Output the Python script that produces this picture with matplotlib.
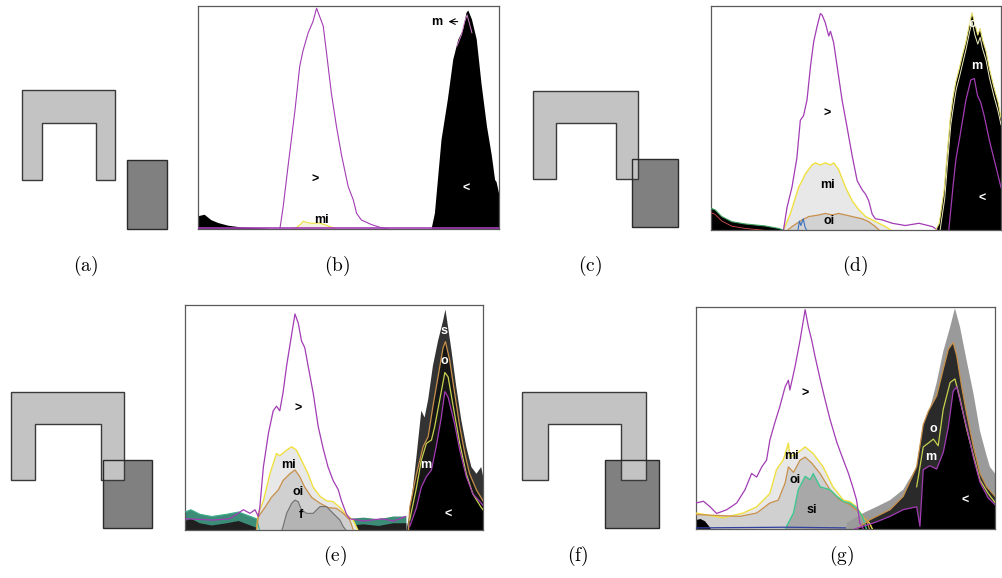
import numpy as np
import matplotlib.pyplot as plt
from matplotlib.patches import Polygon, Rectangle

W, H = 1002, 578
plt.rcParams['mathtext.fontset'] = 'cm'

# ---- shape diagrams (image pixels): U = left,right,top,bottom,inner_l,inner_r,inner_top
U_A = (22, 115, 90, 180, 42, 96, 123)
BLOCK_A = (127, 160, 167, 229)
U_C = (533, 638, 91, 179, 556, 616, 123)
BLOCK_C = (632, 159, 678, 227)
U_E = (11, 124, 392, 480, 35, 101, 424)
BLOCK_E = (103, 460, 152, 528)
U_F = (522, 646, 392, 480, 548, 621, 424)
BLOCK_F = (605, 460, 659, 528)

PANEL_LABELS = ['(a)', '(b)', '(c)', '(d)', '(e)', '(f)', '(g)']
LABEL_POS = [(86, 266), (337, 266), (590, 266), (855, 266),
             (335, 556), (578, 556), (842, 556)]

# ---- histogram curves, (x %, y %) of each panel box
B_TOTAL = [(27.2, 0), (28.3, 10), (29.9, 28), (32.2, 53), (33.8, 73), (34.9, 80),
           (36.6, 88), (38.2, 93), (39.4, 99), (40.5, 95), (41.6, 91), (42.7, 79),
           (44.3, 61), (46.0, 46), (47.7, 33), (49.9, 19), (51.6, 13), (52.7, 7),
           (54.3, 4), (57.6, 2), (61.0, 0.5), (63, 0)]
B_MI = [(32, 0), (34, 2), (35, 3.5), (36, 3), (38, 2.5), (40, 2.8), (42, 2), (44, 1), (46, 0)]
B_LEFT = [(0, 5.7), (2.2, 6.4), (4.4, 4), (6.7, 2.7), (10, 1.5), (14.4, 0.7), (21, 0.3), (24, 0)]
B_RIGHT = [(77.6, 0), (78.7, 7), (80.9, 40), (83, 58), (84.8, 76), (86.5, 85), (88, 89),
           (89.2, 97), (89.8, 98), (91, 94), (92.6, 85), (94.2, 65), (96, 46), (97.6, 33),
           (98.7, 22), (99.2, 21), (100, 16)]
B_M = [(86, 82), (87.5, 87), (88.6, 93), (89.4, 96), (90.2, 92), (91, 88)]

D_TOTAL = [(25.0, 0), (26.2, 10), (27.9, 19), (29.6, 32), (30.8, 49), (31.9, 51), (33.1, 58),
           (34.3, 73), (35.4, 84), (36.6, 91), (37.7, 96.6), (38.3, 96), (39.4, 92.6),
           (40.6, 86.6), (41.2, 88.7), (42.3, 83.6), (43.5, 73), (45.2, 58), (46.9, 46),
           (48.7, 33), (50.4, 22), (52.1, 18), (53.3, 16), (54.4, 13), (55.6, 7), (56.7, 5),
           (59.1, 4.5), (62.5, 3), (67, 2), (71.7, 3), (76.4, 1.5), (78, 0)]
D_MI = [(25, 0), (27.3, 7), (30.2, 19), (31.4, 22), (32.5, 25), (34.8, 29), (36, 30),
        (37.7, 29), (39.4, 30), (41.2, 29), (42.3, 30), (44, 27), (46.4, 19), (48.7, 13),
        (51, 9), (53.3, 6), (55.6, 4.5), (57.9, 3), (60.2, 1.5), (62, 0)]
D_OI = [(26.5, 0), (27.9, 1.5), (31.4, 4.5), (33.7, 6), (37.1, 6.7), (39.4, 7.4), (41.8, 6.7),
        (44, 7.4), (46.4, 6.7), (48.7, 6), (52.1, 5), (54.4, 3.7), (56.7, 1.5), (58, 0)]
D_LEFT = [(0, 9.7), (1.4, 9), (3.7, 6), (7.2, 3.7), (11.8, 2.7), (18.7, 1.8), (23.3, 0.7), (25, 0)]
D_RIGHT = [(77.5, 0), (78.7, 3), (80.4, 18), (81.5, 35), (82.5, 50), (83.3, 58), (84.4, 66),
           (85.6, 72), (86.7, 78), (87.9, 84), (89, 91), (90, 97), (91, 92), (92, 87),
           (92.8, 90), (93.6, 85), (94.8, 80), (96, 72), (97.5, 64), (99, 57), (100, 50)]
D_O = [(79, 0), (80.6, 14), (81.7, 32), (82.7, 47), (83.6, 55), (84.6, 63), (85.8, 69),
       (86.9, 75), (88, 81), (89.1, 88), (90, 93), (91, 87), (92, 83), (92.8, 86),
       (93.6, 81), (94.8, 76), (96, 68), (97.5, 60), (99, 53), (100, 47)]
D_M = [(82, 0), (83.5, 20), (84.5, 32), (85.6, 40), (87.9, 58), (89.6, 67), (90.8, 67.6),
       (91.9, 60), (93, 57), (94.2, 51), (96, 40), (98.3, 28), (100, 19)]

E_TOTAL = [(0, 5), (9.5, 4.4), (15, 5), (19.6, 9), (21.8, 7.4), (23.5, 9), (24.6, 6),
           (25.1, 10), (26.3, 28), (28, 43), (29.6, 53), (30.7, 55), (31.8, 53), (32.9, 61),
           (34.1, 73), (35.8, 87), (36.9, 96), (38, 92), (39.1, 84), (40.2, 81), (41.3, 73),
           (43, 61), (44.7, 46), (46.4, 36), (48, 28), (49.7, 22), (51.4, 18), (52.5, 13),
           (54.2, 7), (55.3, 5), (60, 4), (66, 5), (70, 4), (74, 6)]
E_MI = [(24, 0), (24.6, 7.4), (26.3, 13), (28.5, 25), (30.7, 34), (31.8, 33), (34.1, 35.5),
        (35.8, 37), (37.4, 35.5), (39.1, 31), (41.3, 25), (43, 19), (45.3, 15), (47.5, 13),
        (49.7, 12.6), (52, 10), (54.2, 6.7), (56.4, 4.4), (58, 0)]
E_OI = [(24, 0), (24.6, 5.9), (26.8, 10), (29, 14.5), (31.3, 17.8), (32.9, 22), (35.2, 25),
        (36.9, 26.7), (38.5, 23.7), (40.2, 19), (42.5, 14.5), (45.3, 11.9), (48, 10),
        (50.8, 9.6), (53.1, 7.4), (55.3, 4.4), (56.5, 0)]
E_F = [(32.5, 0), (32.9, 1.5), (34.1, 7.4), (35.8, 11.9), (36.9, 13.3), (38, 12.6),
       (39.1, 8.9), (40.8, 7.4), (43, 7.4), (45.3, 10.4), (47.5, 10.4), (49.7, 7.4),
       (52, 4.4), (53.1, 1.5), (54, 0)]
E_LEFT = [(0, 8), (2, 9), (5, 7), (9, 6), (14, 7), (18, 8), (21, 6.5), (24, 5), (25, 0)]
E_MID = [(55, 0), (55, 5), (60, 5.5), (65, 4.8), (70, 6), (74.3, 6), (74.3, 0)]
E_S = [(74.3, 0), (75.4, 7.4), (76.5, 19), (77.7, 33), (79.3, 53), (80.4, 50), (81.6, 58),
       (83.2, 73), (84.9, 84), (86.6, 93), (87.4, 98), (88.3, 90), (89.4, 80), (91, 64),
       (92.7, 49), (94.4, 37), (96.1, 28), (97.8, 25), (99.4, 28), (100, 24)]
E_O = [(75, 0), (75.4, 10), (77.7, 25), (79.9, 37), (81.6, 41.5), (83.2, 55), (84.9, 68),
       (86.6, 81), (87.4, 83.7), (88.8, 75.6), (90.5, 60.7), (92.2, 46), (93.9, 34),
       (95.5, 25), (97.8, 17.8), (100, 13)]
E_M = [(75.4, 4.4), (77.7, 19), (79.3, 31), (81, 38.5), (82.7, 40), (83.8, 46), (85.5, 58),
       (87.2, 70), (88.3, 68), (90, 55), (92.2, 38.5), (94.4, 25), (96.6, 16), (99.4, 10),
       (100, 9)]
E_LT = [(75.4, 1.5), (77.7, 10), (79.3, 19), (81, 23.7), (82.7, 26.7), (84.3, 37), (86, 50),
        (87.2, 61.5), (88.3, 59), (89.4, 53), (90.5, 47), (92.2, 35.5), (94.4, 23.7),
        (96.6, 16), (99.4, 11.9), (100, 11)]

G_TOTAL = [(0, 11.7), (2.5, 12.5), (4.7, 10), (6.9, 7), (10.3, 8.7), (13.6, 11.7),
           (16.4, 17.7), (18.6, 25), (20.3, 23.4), (22, 28), (23.6, 31), (24.7, 40),
           (26.4, 48), (28, 55), (29.8, 64), (30.9, 67), (31.4, 62.6), (33.1, 73), (34.8, 85),
           (36.5, 98.8), (37.6, 91), (38.7, 85), (39.8, 77.8), (41.5, 67.6), (43.1, 58.6),
           (44.8, 49.5), (47.1, 39), (49.3, 31), (51, 25), (52.7, 17.7), (53.7, 13),
           (54.8, 2.7), (56, 0)]
G_MI = [(0, 7.2), (9.1, 5), (15.8, 7.2), (20.3, 10), (24.7, 16), (26.9, 26.7), (29.2, 31.2),
        (30.9, 38.7), (31.4, 32.4), (33.7, 34), (36.5, 37), (39.2, 34), (42.5, 28),
        (45.8, 19), (49.3, 13), (51.4, 12.4), (53.7, 10), (55.7, 5.7), (58, 2.7), (59, 0)]
G_OI = [(0, 6.5), (14.7, 5.7), (20.3, 7.2), (24.7, 11.7), (27.5, 13), (29.8, 20.7),
        (30.9, 28), (32.6, 25.5), (34.8, 31), (36.5, 32.4), (38.7, 29.7), (41.5, 25),
        (44.8, 17.7), (48.2, 13), (51.4, 11), (54.8, 7.2), (57, 4.2), (58, 0)]
G_SI = [(30, 0), (30.3, 1.2), (32.6, 7.2), (34.2, 17.7), (36.5, 23.7), (38.2, 22.2),
        (39.2, 25), (41.5, 19), (44.8, 17.7), (47.1, 14.7), (49.3, 12.4), (51.4, 11.7),
        (53.7, 9.5), (55.7, 5.7), (57, 0)]
G_LEFT = [(0, 4), (1.5, 4.5), (3, 3.5), (4.5, 1), (5, 0)]
G_GRAY = [(50.4, 0), (50.4, 2.7), (56, 7.2), (60.4, 10), (64.9, 13), (69.3, 17.7),
          (73.8, 28), (76, 46), (78.2, 54), (80.5, 66), (82.7, 80), (85, 91), (86.6, 99.5),
          (88.3, 91), (90.5, 76), (92.8, 61), (95, 44), (97.2, 33), (98.3, 28), (100, 25)]
G_O = [(53.7, 0), (58.2, 4.2), (64.9, 8.7), (69.3, 14.7), (73.8, 28), (76, 47), (77.7, 53),
       (80.5, 60), (82.7, 72), (84.4, 81), (86, 84), (87.2, 78), (88.8, 64.6), (90.5, 52),
       (92.8, 37), (95, 25), (97.2, 19), (100, 14.7)]
G_M = [(73.8, 19), (76, 37), (77.7, 38.7), (79.4, 40.5), (81, 37.5), (82.7, 54), (85, 66),
       (86.6, 67.6), (88.3, 58.6), (90.5, 45), (92.8, 33), (95, 22), (97.7, 16), (100, 12)]
G_LT = [(53, 0), (60, 3), (64.9, 5.7), (69.3, 8.7), (73.8, 10), (74.9, 1.2), (76, 26.7),
        (78.2, 28.5), (80.5, 27), (82.7, 34.5), (84.4, 46), (86, 62), (87.2, 64), (88.8, 55),
        (90.5, 46), (92.8, 32), (95, 21), (97.7, 14), (100, 11)]

PURPLE = '#a23cb4'
YELLOW = '#f0e040'
ORANGE = '#c8904a'
LIME = '#c8d050'


def u_poly(l, r, t, b, il, ir, it):
    return [(l, t), (r, t), (r, b), (ir, b), (ir, it), (il, it), (il, b), (l, b)]


def draw_shapes(ax, u, blk):
    ''' dark block, light U over it, block outline on top '''
    x0, y0, x1, y1 = blk
    ax.add_patch(Rectangle((x0, y0), x1 - x0, y1 - y0, fc='#808080', ec='none'))
    ax.add_patch(Polygon(u_poly(*u), closed=True, fc='#c3c3c3', ec='#3a3a3a', lw=1))
    ax.add_patch(Rectangle((x0, y0), x1 - x0, y1 - y0, fc='none', ec='#2a2a2a', lw=1))


def hist_axes(l, t, w, h):
    ax = fig.add_axes([l / W, 1 - (t + h) / H, w / W, h / H])
    ax.set_xlim(0, 100)
    ax.set_ylim(0, 100)
    ax.set_xticks([])
    ax.set_yticks([])
    for s in ax.spines.values():
        s.set_color('#5a5a5a')
        s.set_linewidth(0.9)
    return ax


def area(ax, pts, fc, z=2):
    p = np.array(pts, dtype=float)
    ax.fill_between(p[:, 0], 0, p[:, 1], fc=fc, lw=0, zorder=z)


def line(ax, pts, col, lw=0.9, z=5):
    p = np.array(pts, dtype=float)
    ax.plot(p[:, 0], p[:, 1], color=col, lw=lw, zorder=z)


def tag(ax, x, y, s, col='black'):
    ax.text(x, y, s, ha='center', va='center', fontsize=9, weight='bold',
            family='Liberation Sans', color=col, zorder=10)


fig = plt.figure(figsize=(W / 100, H / 100), dpi=100)
bg = fig.add_axes([0, 0, 1, 1])
bg.set_xlim(0, W)
bg.set_ylim(H, 0)
bg.axis('off')
for u, blk in [(U_A, BLOCK_A), (U_C, BLOCK_C), (U_E, BLOCK_E), (U_F, BLOCK_F)]:
    draw_shapes(bg, u, blk)
for lab, (x, y) in zip(PANEL_LABELS, LABEL_POS):
    bg.text(x, y, r'$\mathrm{' + lab + '}$', ha='center', va='center', fontsize=14)

# (b)
ax = hist_axes(198, 6, 301, 223)
area(ax, B_LEFT, 'black')
area(ax, B_MI, '#f4f4e0')
line(ax, B_MI, YELLOW, 0.8)
line(ax, B_TOTAL, PURPLE, 0.8)
area(ax, B_RIGHT, 'black')
line(ax, B_M, '#d080c8', 0.7)
ax.axhline(0.4, color=PURPLE, lw=1.2, zorder=6)
tag(ax, 39, 22, '>')
tag(ax, 41, 4, 'mi')
tag(ax, 89.2, 18, '<', 'white')
tag(ax, 79.3, 93, 'm')
ax.annotate('', xy=(82.3, 93), xytext=(87.2, 93),
            arrowprops=dict(arrowstyle='->', color='black', lw=0.8), zorder=10)

# (d)
ax = hist_axes(711, 6, 290, 224)
area(ax, D_LEFT, 'black')
line(ax, D_LEFT, '#40a060', 0.8)
line(ax, [(p[0], p[1] - 2) for p in D_LEFT], '#d05050', 0.6)
area(ax, D_MI, '#e8e8e8')
area(ax, D_OI, '#d2d2d2')
line(ax, D_MI, YELLOW, 1.0)
line(ax, D_OI, ORANGE, 0.9)
line(ax, [(30, 0), (30.5, 4), (31, 2), (31.8, 5), (32.5, 1), (33, 0)], '#3a70c0', 0.8)
line(ax, D_TOTAL, PURPLE, 0.9)
area(ax, D_RIGHT, 'black')
line(ax, D_RIGHT, '#e8e070', 0.8)
line(ax, D_O, '#f0f0c0', 0.7)
line(ax, D_M, PURPLE, 0.9)
tag(ax, 40, 52, '>')
tag(ax, 40, 20, 'mi')
tag(ax, 40.6, 4, 'oi')
tag(ax, 90.2, 92, 'o', 'white')
tag(ax, 91.6, 73, 'm', 'white')
tag(ax, 93.4, 14, '<', 'white')

# (e)
ax = hist_axes(185, 305, 298, 225)
area(ax, E_LEFT, '#3c8c78')
area(ax, [(p[0], p[1] - 4) for p in E_LEFT], '#202020')
line(ax, E_LEFT, '#40b090', 0.8)
area(ax, E_MID, '#3c8c78')
area(ax, [(p[0], p[1] - 3) for p in E_MID], '#202020')
area(ax, E_MI, '#e8e8e8')
area(ax, E_OI, '#d0d0d0')
area(ax, E_F, '#b4b4b4')
line(ax, E_MI, YELLOW, 1.0)
line(ax, E_OI, ORANGE, 0.9)
line(ax, E_F, '#707070', 0.8)
line(ax, E_TOTAL, PURPLE, 0.9)
area(ax, E_S, '#333333')
area(ax, E_O, '#161616')
area(ax, E_LT, 'black')
line(ax, E_O, ORANGE, 0.9)
line(ax, E_M, LIME, 0.9)
line(ax, E_LT, PURPLE, 0.9)
tag(ax, 38, 54, '>')
tag(ax, 34.6, 29, 'mi')
tag(ax, 37.8, 17, 'oi')
tag(ax, 38.9, 6.7, 'f')
tag(ax, 86.9, 88.6, 's', 'white')
tag(ax, 86.9, 75, 'o', 'white')
tag(ax, 80.7, 29, 'm', 'white')
tag(ax, 88.3, 6.7, '<', 'white')

# (g)
ax = hist_axes(696, 307, 299, 222)
area(ax, G_MI, '#e8e8e8')
area(ax, G_OI, '#d0d0d0')
area(ax, G_SI, '#a8a8a8')
area(ax, G_LEFT, 'black')
line(ax, G_MI, YELLOW, 1.0)
line(ax, G_OI, ORANGE, 0.9)
line(ax, G_SI, '#40c890', 1.0)
line(ax, G_TOTAL, PURPLE, 0.9)
area(ax, G_GRAY, '#9a9a9a')
area(ax, G_O, '#2a2a2a')
area(ax, G_LT, 'black')
line(ax, G_O, ORANGE, 0.9)
line(ax, G_M, LIME, 0.9)
line(ax, G_LT, PURPLE, 0.9)
line(ax, [(0, 0.5), (30, 0.8), (50, 0.5)], '#3040a0', 0.9)
tag(ax, 36.5, 61, '>')
tag(ax, 31.8, 32.7, 'mi')
tag(ax, 33.1, 22, 'oi')
tag(ax, 38.7, 8.7, 'si')
tag(ax, 79.4, 45, 'o', 'white')
tag(ax, 78.5, 32.4, 'm', 'white')
tag(ax, 90, 12.5, '<', 'white')

fig.savefig('out.png', dpi=100)
